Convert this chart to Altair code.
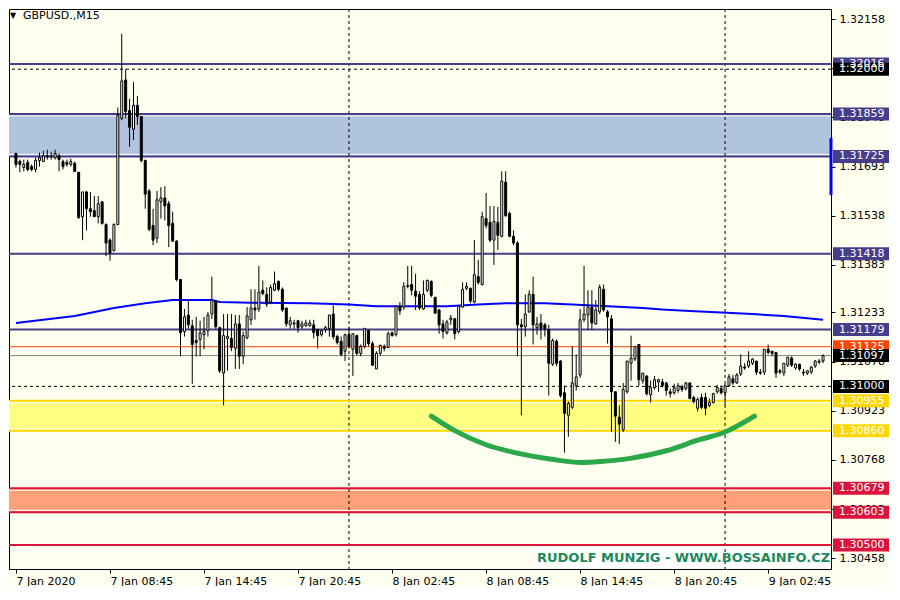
import altair as alt
import pandas as pd

# ---------------- data (GBPUSD M15, bar index 0 = 7 Jan 2020 02:45) ----------------
open_ = [1.31734, 1.31709, 1.31690, 1.31706, 1.31693, 1.31684, 1.31712, 1.31709, 1.31727, 1.31724,
 1.31721, 1.31727, 1.31709, 1.31706, 1.31700, 1.31703, 1.31675, 1.31535, 1.31613, 1.31560,
 1.31554, 1.31535, 1.31582, 1.31510, 1.31461, 1.31427, 1.31510, 1.31845, 1.31966, 1.31870,
 1.31811, 1.31886, 1.31851, 1.31712, 1.31616, 1.31507, 1.31467, 1.31582, 1.31594, 1.31576,
 1.31514, 1.31458, 1.31337, 1.31173, 1.31225, 1.31191, 1.31145, 1.31148, 1.31163, 1.31176,
 1.31228, 1.31269, 1.31185, 1.31042, 1.31151, 1.31151, 1.31120, 1.31197, 1.31095, 1.31154,
 1.31210, 1.31247, 1.31244, 1.31303, 1.31290, 1.31266, 1.31303, 1.31331, 1.31306, 1.31247,
 1.31194, 1.31197, 1.31207, 1.31188, 1.31191, 1.31191, 1.31194, 1.31179, 1.31163, 1.31179,
 1.31182, 1.31228, 1.31157, 1.31142, 1.31111, 1.31163, 1.31117, 1.31160, 1.31104, 1.31126,
 1.31176, 1.31135, 1.31055, 1.31104, 1.31126, 1.31123, 1.31169, 1.31163, 1.31253, 1.31250,
 1.31315, 1.31321, 1.31300, 1.31290, 1.31244, 1.31303, 1.31331, 1.31281, 1.31241, 1.31197,
 1.31169, 1.31210, 1.31213, 1.31173, 1.31250, 1.31309, 1.31309, 1.31266, 1.31346, 1.31321,
 1.31529, 1.31517, 1.31461, 1.31517, 1.31473, 1.31644, 1.31545, 1.31473, 1.31452, 1.31194,
 1.31188, 1.31235, 1.31290, 1.31185, 1.31200, 1.31194, 1.31179, 1.31070, 1.31142, 1.31080,
 1.30980, 1.30909, 1.30934, 1.31002, 1.31036, 1.31210, 1.31225, 1.31250, 1.31197, 1.31235,
 1.31306, 1.31235, 1.31213, 1.30983, 1.30903, 1.30863, 1.30983, 1.31073, 1.31086, 1.31132,
 1.31018, 1.31033, 1.30974, 1.30996, 1.31014, 1.31014, 1.31011, 1.30983, 1.30980, 1.30987,
 1.30999, 1.30993, 1.31011, 1.30965, 1.30931, 1.30965, 1.30965, 1.30940, 1.30949, 1.30983,
 1.30993, 1.30980, 1.31002, 1.31024, 1.31011, 1.31039, 1.31061, 1.31064, 1.31073, 1.31080,
 1.31045, 1.31045, 1.31117, 1.31111, 1.31107, 1.31049, 1.31042, 1.31067, 1.31089, 1.31058,
 1.31070, 1.31045, 1.31042, 1.31045, 1.31064, 1.31076, 1.31080]

high = [1.31737, 1.31715, 1.31715, 1.31715, 1.31700, 1.31721, 1.31737, 1.31743, 1.31746, 1.31740,
 1.31746, 1.31734, 1.31715, 1.31715, 1.31718, 1.31709, 1.31675, 1.31613, 1.31616, 1.31613,
 1.31600, 1.31600, 1.31582, 1.31514, 1.31467, 1.31514, 1.31879, 1.32112, 1.32000, 1.31907,
 1.31960, 1.31916, 1.31851, 1.31715, 1.31622, 1.31560, 1.31616, 1.31628, 1.31631, 1.31585,
 1.31551, 1.31461, 1.31337, 1.31244, 1.31272, 1.31210, 1.31219, 1.31207, 1.31219, 1.31235,
 1.31346, 1.31272, 1.31188, 1.31228, 1.31228, 1.31228, 1.31225, 1.31225, 1.31173, 1.31250,
 1.31306, 1.31306, 1.31380, 1.31334, 1.31312, 1.31321, 1.31362, 1.31334, 1.31312, 1.31247,
 1.31219, 1.31210, 1.31210, 1.31207, 1.31210, 1.31210, 1.31210, 1.31179, 1.31179, 1.31191,
 1.31225, 1.31256, 1.31163, 1.31157, 1.31166, 1.31188, 1.31166, 1.31163, 1.31132, 1.31185,
 1.31179, 1.31142, 1.31111, 1.31132, 1.31132, 1.31173, 1.31173, 1.31253, 1.31266, 1.31328,
 1.31380, 1.31380, 1.31355, 1.31300, 1.31334, 1.31337, 1.31334, 1.31281, 1.31244, 1.31210,
 1.31210, 1.31225, 1.31216, 1.31253, 1.31328, 1.31328, 1.31312, 1.31461, 1.31399, 1.31551,
 1.31610, 1.31569, 1.31569, 1.31566, 1.31678, 1.31678, 1.31551, 1.31492, 1.31458, 1.31213,
 1.31290, 1.31303, 1.31346, 1.31219, 1.31228, 1.31200, 1.31194, 1.31151, 1.31148, 1.31083,
 1.31002, 1.30952, 1.31126, 1.31101, 1.31244, 1.31380, 1.31303, 1.31303, 1.31272, 1.31321,
 1.31321, 1.31241, 1.31225, 1.30983, 1.30940, 1.31011, 1.31080, 1.31160, 1.31126, 1.31132,
 1.31042, 1.31033, 1.31018, 1.31033, 1.31024, 1.31024, 1.31014, 1.30993, 1.31008, 1.31011,
 1.31005, 1.31014, 1.31011, 1.30971, 1.30965, 1.30977, 1.30980, 1.30962, 1.30980, 1.31005,
 1.31002, 1.31008, 1.31039, 1.31036, 1.31042, 1.31101, 1.31073, 1.31111, 1.31089, 1.31080,
 1.31055, 1.31117, 1.31132, 1.31111, 1.31107, 1.31055, 1.31073, 1.31092, 1.31095, 1.31073,
 1.31070, 1.31055, 1.31049, 1.31064, 1.31083, 1.31086, 1.31101]

low = [1.31690, 1.31675, 1.31678, 1.31678, 1.31678, 1.31675, 1.31693, 1.31709, 1.31715, 1.31715,
 1.31715, 1.31678, 1.31684, 1.31693, 1.31693, 1.31675, 1.31529, 1.31461, 1.31492, 1.31535,
 1.31535, 1.31514, 1.31510, 1.31411, 1.31396, 1.31427, 1.31510, 1.31839, 1.31845, 1.31755,
 1.31777, 1.31824, 1.31706, 1.31560, 1.31489, 1.31445, 1.31452, 1.31529, 1.31523, 1.31439,
 1.31455, 1.31331, 1.31095, 1.31157, 1.31182, 1.31008, 1.31095, 1.31095, 1.31117, 1.31157,
 1.31213, 1.31182, 1.31042, 1.30940, 1.31049, 1.31111, 1.31055, 1.31055, 1.31070, 1.31148,
 1.31194, 1.31210, 1.31235, 1.31287, 1.31250, 1.31259, 1.31300, 1.31300, 1.31235, 1.31188,
 1.31182, 1.31182, 1.31169, 1.31182, 1.31188, 1.31188, 1.31151, 1.31120, 1.31157, 1.31169,
 1.31157, 1.31148, 1.31132, 1.31095, 1.31080, 1.31120, 1.31033, 1.31098, 1.31095, 1.31120,
 1.31126, 1.31064, 1.31055, 1.31098, 1.31111, 1.31120, 1.31157, 1.31157, 1.31225, 1.31241,
 1.31309, 1.31287, 1.31241, 1.31241, 1.31241, 1.31297, 1.31281, 1.31228, 1.31166, 1.31151,
 1.31163, 1.31194, 1.31148, 1.31166, 1.31247, 1.31303, 1.31262, 1.31262, 1.31321, 1.31318,
 1.31498, 1.31455, 1.31383, 1.31430, 1.31470, 1.31535, 1.31470, 1.31445, 1.31095, 1.30909,
 1.31157, 1.31231, 1.31132, 1.31163, 1.31148, 1.31157, 1.30971, 1.31064, 1.31064, 1.30965,
 1.30791, 1.30841, 1.30928, 1.30987, 1.31027, 1.31203, 1.31179, 1.31179, 1.31194, 1.31228,
 1.31235, 1.31135, 1.30856, 1.30825, 1.30819, 1.30856, 1.30977, 1.31018, 1.31080, 1.31002,
 1.31008, 1.30971, 1.30949, 1.30990, 1.30983, 1.30996, 1.30971, 1.30965, 1.30974, 1.30980,
 1.30983, 1.30987, 1.30959, 1.30946, 1.30921, 1.30928, 1.30909, 1.30934, 1.30946, 1.30977,
 1.30974, 1.30940, 1.30999, 1.31005, 1.31008, 1.31033, 1.31052, 1.31058, 1.31067, 1.31036,
 1.31036, 1.31036, 1.31101, 1.31095, 1.31027, 1.31039, 1.31033, 1.31061, 1.31061, 1.31052,
 1.31049, 1.31033, 1.31036, 1.31039, 1.31058, 1.31070, 1.31073]

close = [1.31700, 1.31700, 1.31700, 1.31684, 1.31684, 1.31712, 1.31721, 1.31727, 1.31724, 1.31727,
 1.31734, 1.31715, 1.31693, 1.31700, 1.31709, 1.31678, 1.31532, 1.31613, 1.31560, 1.31551,
 1.31535, 1.31576, 1.31514, 1.31452, 1.31421, 1.31510, 1.31855, 1.31963, 1.31867, 1.31817,
 1.31886, 1.31851, 1.31712, 1.31606, 1.31495, 1.31461, 1.31588, 1.31594, 1.31569, 1.31507,
 1.31458, 1.31337, 1.31169, 1.31219, 1.31194, 1.31132, 1.31138, 1.31169, 1.31173, 1.31225,
 1.31272, 1.31188, 1.31049, 1.31160, 1.31157, 1.31123, 1.31197, 1.31095, 1.31160, 1.31222,
 1.31247, 1.31241, 1.31297, 1.31293, 1.31259, 1.31312, 1.31324, 1.31306, 1.31241, 1.31197,
 1.31207, 1.31200, 1.31185, 1.31197, 1.31200, 1.31200, 1.31169, 1.31160, 1.31176, 1.31185,
 1.31225, 1.31157, 1.31138, 1.31101, 1.31163, 1.31126, 1.31166, 1.31104, 1.31126, 1.31182,
 1.31135, 1.31067, 1.31104, 1.31129, 1.31120, 1.31166, 1.31160, 1.31253, 1.31238, 1.31315,
 1.31318, 1.31303, 1.31284, 1.31247, 1.31290, 1.31334, 1.31287, 1.31231, 1.31194, 1.31173,
 1.31203, 1.31216, 1.31166, 1.31253, 1.31306, 1.31315, 1.31269, 1.31352, 1.31328, 1.31535,
 1.31507, 1.31461, 1.31520, 1.31476, 1.31647, 1.31538, 1.31473, 1.31452, 1.31194, 1.31188,
 1.31228, 1.31290, 1.31194, 1.31197, 1.31182, 1.31182, 1.31073, 1.31145, 1.31073, 1.30971,
 1.30915, 1.30946, 1.31011, 1.31030, 1.31210, 1.31228, 1.31250, 1.31200, 1.31241, 1.31312,
 1.31241, 1.31219, 1.30983, 1.30906, 1.30881, 1.30990, 1.31080, 1.31089, 1.31126, 1.31021,
 1.31042, 1.30977, 1.30996, 1.31021, 1.31021, 1.31002, 1.30987, 1.30977, 1.30996, 1.31002,
 1.30990, 1.31011, 1.30962, 1.30952, 1.30959, 1.30934, 1.30931, 1.30949, 1.30977, 1.30996,
 1.30980, 1.31002, 1.31030, 1.31011, 1.31036, 1.31064, 1.31058, 1.31080, 1.31086, 1.31045,
 1.31042, 1.31117, 1.31107, 1.31104, 1.31042, 1.31045, 1.31073, 1.31092, 1.31067, 1.31070,
 1.31055, 1.31042, 1.31049, 1.31061, 1.31080, 1.31080, 1.31097]

x_tick_bars = [0, 24, 48, 72, 96, 120, 144, 168, 192]
x_tick_labels = ["7 Jan 2020", "7 Jan 08:45", "7 Jan 14:45", "7 Jan 20:45", "8 Jan 02:45",
                 "8 Jan 08:45", "8 Jan 14:45", "8 Jan 20:45", "9 Jan 02:45"]
day_separator_bars = [85, 181]
y_tick_values = [1.32158, 1.32003, 1.31848, 1.31693, 1.31538, 1.31383, 1.31233, 1.31078,
                 1.30923, 1.30768, 1.30613, 1.30458]

ma_bars = [0, 15, 25, 33, 40, 50, 52, 60, 75, 85, 92, 100, 110, 118, 125, 135, 142, 147,
           155, 160, 165, 172, 180, 188, 196, 206]
ma_values = [1.31200, 1.31222, 1.31247, 1.31262, 1.31272, 1.31272, 1.31266, 1.31264, 1.31262,
             1.31258, 1.31253, 1.31253, 1.31253, 1.31258, 1.31262, 1.31262, 1.31258, 1.31255,
             1.31250, 1.31247, 1.31242, 1.31238, 1.31233, 1.31228, 1.31222, 1.31210]

arc_bars = [106, 111.75, 120, 128.5, 136.75, 144.25, 149.25, 156.75, 166, 174.25, 181, 188.5]
arc_prices = [1.30906, 1.30862, 1.30816, 1.30788, 1.30770, 1.30760, 1.30763, 1.30773,
              1.30797, 1.30831, 1.30856, 1.30906]

band_low = [1.31725, 1.30860, 1.30603]
band_high = [1.31859, 1.30955, 1.30679]
band_fill = ["#B0C4DE", "#FFFF80", "#FFA07A"]

solid_levels = [1.32016, 1.31859, 1.31725, 1.31418, 1.31179, 1.31125, 1.31097,
                1.30955, 1.30860, 1.30679, 1.30603, 1.30500]
solid_colors = ["#483D8B", "#483D8B", "#483D8B", "#483D8B", "#483D8B", "#FF4500", "#808080",
                "#FFD700", "#FFD700", "#DC143C", "#DC143C", "#DC143C"]
solid_widths = [2, 2, 2, 2, 2, 1, 1, 2, 2, 2, 2, 2]
dashed_levels = [1.32000, 1.31000]

label_prices = [1.32016, 1.32000, 1.31859, 1.31725, 1.31418, 1.31179, 1.31125, 1.31097,
                1.31000, 1.30955, 1.30860, 1.30679, 1.30603, 1.30500]
label_colors = ["#483D8B", "#000000", "#483D8B", "#483D8B", "#483D8B", "#483D8B", "#FF4500",
                "#000000", "#000000", "#FFD700", "#FFD700", "#DC143C", "#DC143C", "#DC143C"]
axis_marker = [1.31783, 1.31603]

title_text = "GBPUSD.,M15"
watermark = "RUDOLF MUNZIG - WWW.BOSSAINFO.CZ"

# ---------------- layout ----------------
W, H = 822, 560
FONT = "DejaVu Sans"
BG = "#FFFFF0"

xs = alt.Scale(domain=[-0.5, 206.76], nice=False, zero=False)
ys = alt.Scale(domain=[1.30440, 1.32174], nice=False, zero=False)

label_js = "[" + ",".join("'" + s + "'" for s in x_tick_labels) + "]"
x_axis = alt.Axis(values=x_tick_bars, labelExpr=label_js + "[round(datum.value / 24)]",
                  labelAlign="left", tickSize=4, labelPadding=2, domainColor="black",
                  tickColor="black", labelColor="black", labelFont=FONT, labelFontSize=11,
                  grid=False, title=None, labelOverlap=False, labelFlush=False, labelBound=False)
y_axis = alt.Axis(values=y_tick_values, format=".5f", orient="right", tickSize=4,
                  labelPadding=4, domainColor="black", tickColor="black", labelColor="black",
                  labelFont=FONT, labelFontSize=11, grid=False, title=None,
                  labelOverlap=False, labelFlush=False, labelBound=False)

def X(field):
    return alt.X(field, type="quantitative", scale=xs, axis=x_axis)

def Y(field):
    return alt.Y(field, type="quantitative", scale=ys, axis=y_axis)

candles = pd.DataFrame({"i": list(range(len(open_))), "open": open_, "high": high,
                        "low": low, "close": close})
candles["dir"] = ["up" if c >= o else "down" for o, c in zip(open_, close)]

bands = pd.DataFrame({"lo": band_low, "hi": band_high, "fill": band_fill})
solid = pd.DataFrame({"p": solid_levels, "c": solid_colors, "w": solid_widths})
dashed = pd.DataFrame({"p": dashed_levels})
edges_top = pd.DataFrame({"p": band_high})
edges_bot = pd.DataFrame({"p": band_low})
seps = pd.DataFrame({"i": day_separator_bars})
ma = pd.DataFrame({"i": ma_bars, "p": ma_values})
arc = pd.DataFrame({"i": arc_bars, "p": arc_prices})
labels = pd.DataFrame({"p": label_prices, "c": label_colors,
                       "t": [f"{v:.5f}" for v in label_prices], "o": range(len(label_prices))})
marker = pd.DataFrame({"a": [axis_marker[0]], "b": [axis_marker[1]]})
one = pd.DataFrame({"t": [""]})

wm_box = alt.Chart(one).mark_rect(color="white").encode(
    x=alt.value(524), x2=alt.value(W), y=alt.value(H - 22), y2=alt.value(H - 1))

band_layer = alt.Chart(bands).mark_rect().encode(
    y=Y("lo"), y2="hi", color=alt.Color("fill:N", scale=None))

edge_top = alt.Chart(edges_top).mark_rule(color="white", strokeWidth=1, yOffset=2).encode(y=Y("p"))
edge_bot = alt.Chart(edges_bot).mark_rule(color="white", strokeWidth=1, yOffset=-2).encode(y=Y("p"))

sep_layer = alt.Chart(seps).mark_rule(color="black", strokeWidth=1, strokeDash=[3, 3]).encode(x=X("i"))

solid_layer = alt.Chart(solid).mark_rule().encode(
    y=Y("p"), color=alt.Color("c:N", scale=None), strokeWidth=alt.StrokeWidth("w:Q", scale=None))
dashed_layer = alt.Chart(dashed).mark_rule(color="black", strokeWidth=1, strokeDash=[3, 3]).encode(y=Y("p"))

ma_layer = alt.Chart(ma).mark_line(color="#0000FF", strokeWidth=2).encode(x=X("i"), y=Y("p"))

wicks = alt.Chart(candles).mark_rule(color="black", strokeWidth=1).encode(
    x=X("i"), y=Y("low"), y2="high")
bodies = alt.Chart(candles).mark_bar(size=2, stroke="black", strokeWidth=1).encode(
    x=X("i"), y=Y("open"), y2="close",
    fill=alt.Fill("dir:N", scale=alt.Scale(domain=["up", "down"], range=["#FFFFFF", "#000000"]), legend=None))

arc_layer = alt.Chart(arc).mark_line(color="#2AA84A", strokeWidth=5, strokeCap="round",
                                     interpolate="monotone").encode(x=X("i"), y=Y("p"))

marker_layer = alt.Chart(marker).mark_rule(color="#0000FF", strokeWidth=3).encode(
    x=alt.value(W), y=Y("a"), y2="b")

label_box = alt.Chart(labels).mark_bar(orient="horizontal", size=13).encode(
    y=Y("p"), x=alt.value(W + 2), x2=alt.value(W + 58), color=alt.Color("c:N", scale=None),
    order=alt.Order("o:Q"))
label_txt = alt.Chart(labels).mark_text(align="left", baseline="middle", font=FONT,
                                        fontSize=11, color="white").encode(
    y=Y("p"), x=alt.value(W + 8), text="t:N", order=alt.Order("o:Q"))

tri = alt.Chart(one).mark_text(text="▼", align="left", baseline="middle", font=FONT,
                               fontSize=8, color="black").encode(x=alt.value(1), y=alt.value(7))
title = alt.Chart(one).mark_text(text=title_text, align="left", baseline="middle", font=FONT,
                                 fontSize=11, color="black").encode(x=alt.value(14), y=alt.value(7))
wm_text = alt.Chart(one).mark_text(text=watermark, align="left", baseline="middle", font=FONT,
                                   fontSize=13, fontWeight="bold", color="#1B8A5A").encode(
    x=alt.value(528), y=alt.value(H - 11))

chart = alt.layer(
    wm_box, band_layer, edge_top, edge_bot, sep_layer, solid_layer, dashed_layer, ma_layer,
    wicks, bodies, arc_layer, marker_layer, label_box, label_txt, tri, title, wm_text
).properties(
    width=W, height=H, padding=0, background=BG
).configure_view(
    stroke="black", strokeWidth=1, fill=BG
)

chart.save("out.html", embed_options={"renderer": "svg", "actions": False})
